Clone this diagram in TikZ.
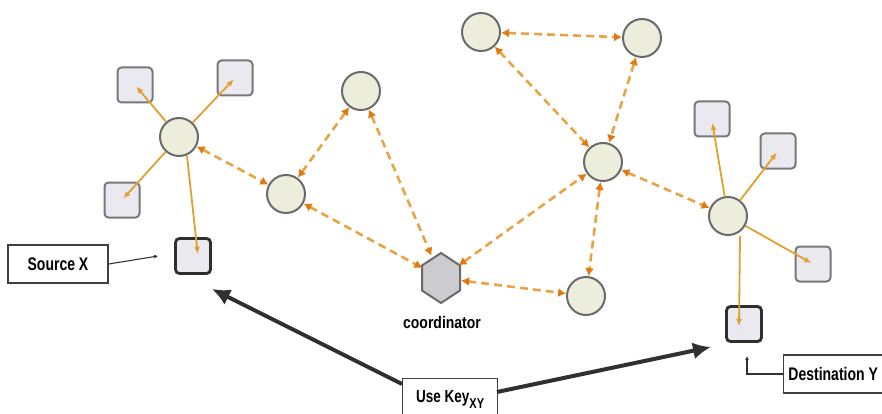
\documentclass[tikz,border=0pt]{standalone}
\usepackage{fontspec}
\setsansfont{Liberation Sans}
\usetikzlibrary{arrows.meta,shapes.geometric}
\definecolor{circF}{HTML}{EDEDDC}
\definecolor{circB}{HTML}{6A6A6A}
\definecolor{sqF}{HTML}{E9E9EF}
\definecolor{sqB}{HTML}{787878}
\definecolor{darkB}{HTML}{2E2E2E}
\definecolor{dashC}{HTML}{E6A444}
\definecolor{tipC}{HTML}{E07A10}
\definecolor{solC}{HTML}{E0A030}
\definecolor{bigC}{HTML}{303030}
\definecolor{hexF}{HTML}{CBCBD0}
\newcommand{\yst}[1]{\scalebox{1}[1.3]{#1}}
\tikzset{
  circnode/.style={circle,draw=circB,fill=circF,line width=2pt,minimum size=38pt,inner sep=0pt},
  sqnode/.style={rectangle,rounded corners=4pt,draw=sqB,fill=sqF,line width=2pt,minimum size=35pt,inner sep=0pt},
  sqdark/.style={sqnode,draw=darkB,line width=2.8pt},
  lblbox/.style={rectangle,draw=black!75,line width=1.3pt,fill=white,font=\sffamily\bfseries\fontsize{14}{16}\selectfont,inner sep=0pt,minimum height=38pt},
  dlink/.style={draw=dashC,line width=2.6pt,dash pattern=on 8pt off 5pt,{Latex[length=8pt,width=9pt,color=tipC]}-{Latex[length=8pt,width=9pt,color=tipC]}},
  slink/.style={draw=solC,line width=1.8pt,-{Latex[length=7pt,width=6pt]},shorten >=2pt},
  bigarrow/.style={draw=bigC,line width=4pt,-{Latex[length=18pt,width=17pt]}},
  thinarrow/.style={draw=black!80,line width=1.1pt,-{Latex[length=4pt,width=4pt]}}
}
\begin{document}
\begin{tikzpicture}[x=1pt,y=-1pt]
\useasboundingbox (0,0) rectangle (882,414);
% circles
\node[circnode] (LH) at (179,137) {};
\node[circnode] (A) at (286,194) {};
\node[circnode] (B) at (361,91) {};
\node[circnode] (C) at (481,32) {};
\node[circnode] (D) at (642,38) {};
\node[circnode] (E) at (603,162) {};
\node[circnode] (RH) at (728,216) {};
\node[circnode] (F) at (586,296) {};
% coordinator hexagon
\filldraw[fill=hexF,draw=circB,line width=2pt] (441,253) -- (460,265.5) -- (460,290.5) -- (441,303) -- (422,290.5) -- (422,265.5) -- cycle;
\node[ellipse,minimum width=40pt,minimum height=50pt,inner sep=0pt] (co) at (441,278) {};
\node[font=\sffamily\bfseries\fontsize{14}{16}\selectfont,inner sep=0pt] (colbl) at (442,322) {\scalebox{1}[1.2]{coordinator}};
% squares
\node[sqnode] (L1) at (135,85) {};
\node[sqnode] (L2) at (235,78) {};
\node[sqnode] (L3) at (122,200) {};
\node[sqdark] (src) at (193,256) {};
\node[sqnode] (R1) at (712,119) {};
\node[sqnode] (R2) at (778,151) {};
\node[sqnode] (R3) at (813,264) {};
\node[sqdark] (dst) at (744,324) {};
% solid cluster links
\draw[slink] (LH) -- (L1.center);
\draw[slink] (LH) -- (L2.center);
\draw[slink] (LH) -- (L3.center);
\draw[slink] (LH.south) ++(8,-1) coordinate (lhs) (lhs) -- ([xshift=5pt]src.center);
\draw[slink] (RH) -- ([yshift=-2pt]R1.center);
\draw[slink] (RH) -- (R2.center);
\draw[slink] (RH) -- (R3.center);
\draw[slink] ([xshift=12pt]RH.south) -- ([xshift=-5pt,yshift=-4pt]dst.center);
% dashed links
\draw[dlink] (LH) -- (A);
\draw[dlink] (A) -- (B);
\draw[dlink] (A) -- (co);
\draw[dlink] (B) -- (co);
\draw[dlink] (co) -- (E);
\draw[dlink] (co) -- (F);
\draw[dlink] (C) -- (D);
\draw[dlink] (C) -- (E);
\draw[dlink] (D) -- (E);
\draw[dlink] (E) -- (F);
\draw[dlink] (E) -- (RH);
% labels
\node[lblbox,minimum width=100pt] (sx) at (58,264) {\yst{Source X}};
\draw[thinarrow] (sx.east) -- ([xshift=-16pt]src.west);
\node[lblbox,minimum width=99pt,anchor=west] (dy) at (783,374) {\yst{Destination Y}};
\coordinate (dyt) at (747,356);
\draw[thinarrow] (dy.west) -| (dyt);
\node[lblbox,minimum width=95pt,minimum height=42pt,anchor=north west,font=\sffamily\bfseries\fontsize{13.5}{15}\selectfont] (uk) at (402,378) {\raisebox{-3pt}{\yst{Use Key\raisebox{-5pt}{\fontsize{11}{12}\selectfont XY}}}};
\coordinate (ukl) at (402,384);
\coordinate (ukr) at (497,392);
\coordinate (srcT) at (212,289);
\coordinate (dstT) at (711,347);
\draw[bigarrow] (ukl) -- (srcT);
\draw[bigarrow] (ukr) -- (dstT);
\end{tikzpicture}
\end{document}
